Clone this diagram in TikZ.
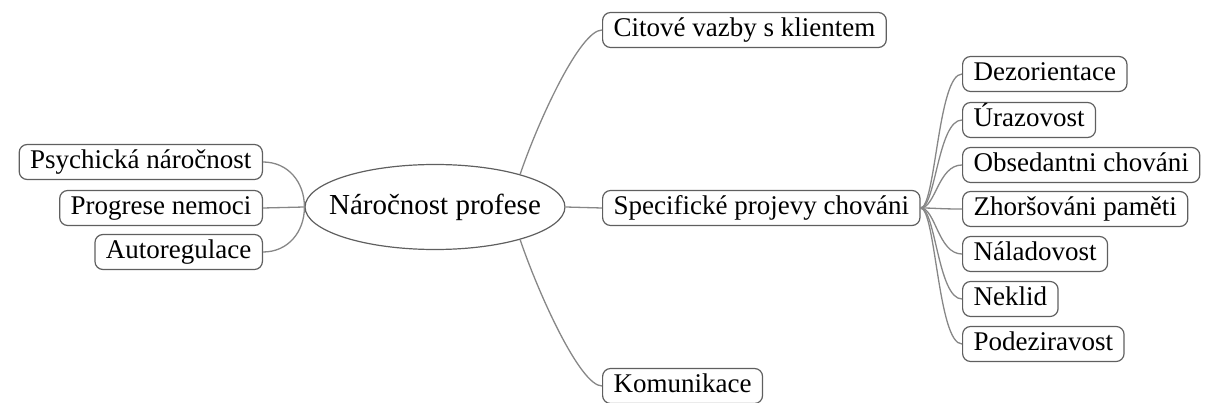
\documentclass[tikz,border=0pt]{standalone}
\usepackage{fontspec}
\setmainfont{Liberation Serif}
\newfontfamily\mapfont{Liberation Serif}
\usepackage{tikz}
\usetikzlibrary{shapes.geometric}
\definecolor{linegray}{RGB}{135,135,135}
\definecolor{boxgray}{RGB}{95,95,95}

\begin{document}
\begin{tikzpicture}[x=1pt,y=-1pt,
	font=\mapfont\fontsize{27}{31}\selectfont,
	box/.style={draw=boxgray,line width=1.2pt,rounded corners=8pt,inner xsep=11pt,inner ysep=0pt,text height=19pt,text depth=6pt,minimum height=35pt},
	stred/.style={draw=boxgray,line width=1.2pt,ellipse,minimum width=258pt,minimum height=85pt,inner xsep=-14pt,inner ysep=0pt,font=\mapfont\fontsize{29}{33}\selectfont},
	spoj/.style={draw=linegray,line width=1.3pt}]
	\useasboundingbox (0,0) rectangle (1208,403);
	\node[stred] (narocnost) at (435,207) {Náročnost profese};
	% vlevo
	\node[box,anchor=east] (psychicka) at (263,162) {Psychická náročnost};
	\node[box,anchor=east] (progrese) at (263,208) {Progrese nemoci};
	\node[box,anchor=east] (autoregulace) at (263,252) {Autoregulace};
	\draw[spoj] (psychicka.east) .. controls +(25,0) and +(0,-25) .. (narocnost.west);
	\draw[spoj] (progrese.east) -- (narocnost.west);
	\draw[spoj] (autoregulace.east) .. controls +(25,0) and +(0,25) .. (narocnost.west);
	% vpravo
	\node[box,anchor=west] (citove) at (602,30) {Citové vazby s klientem};
	\node[box,anchor=west] (projevy) at (602,208) {Specifické projevy chováni};
	\node[box,anchor=west] (komunikace) at (602,386) {Komunikace};
	\draw[spoj] (narocnost.21) .. controls +(18,-53) and +(-22,0) .. (citove.west);
	\draw[spoj] (narocnost.east) -- (projevy.west);
	\draw[spoj] (narocnost.-21) .. controls +(18,53) and +(-22,0) .. (komunikace.west);
	% projevy chovani
	\node[box,anchor=west] (dezorientace) at (962,74) {Dezorientace};
	\node[box,anchor=west] (urazovost) at (962,120) {Úrazovost};
	\node[box,anchor=west] (obsedantni) at (962,165) {Obsedantni chováni};
	\node[box,anchor=west] (pamet) at (962,209) {Zhoršováni paměti};
	\node[box,anchor=west] (naladovost) at (962,254) {Náladovost};
	\node[box,anchor=west] (neklid) at (962,299) {Neklid};
	\node[box,anchor=west] (podeziravost) at (962,344) {Podeziravost};
	\foreach \n in {dezorientace,urazovost,obsedantni,pamet,naladovost,neklid,podeziravost}
		\draw[spoj] (projevy.east) .. controls +(15,0) and +(-24,0) .. (\n.west);
\end{tikzpicture}
\end{document}
